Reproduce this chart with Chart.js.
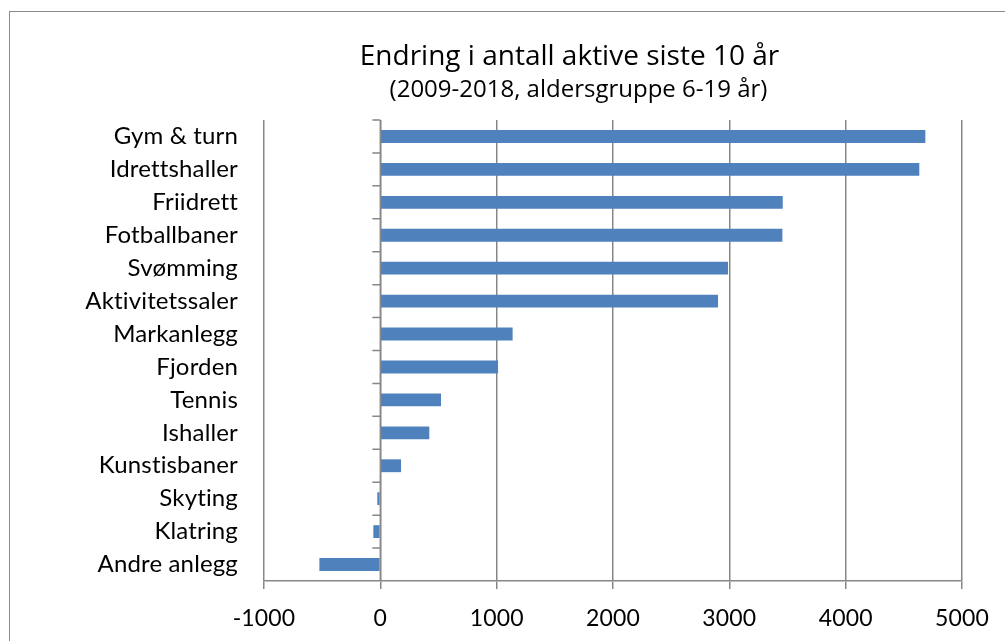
<!DOCTYPE html>
<html>
<head>
<meta charset="utf-8">
<script src="https://cdn.jsdelivr.net/npm/chart.js@4.4.1/dist/chart.umd.min.js"></script>
<style>
  html, body { margin: 0; padding: 0; background: #fff; overflow: hidden; }
  #wrap { position: relative; width: 1005px; height: 641px; }
  #frame { position: absolute; left: 9px; top: 11px; width: 1100px; height: 700px; border: 1.5px solid #8a8a8a; box-sizing: border-box; }
  canvas { position: absolute; left: 0; top: 0; }
</style>
</head>
<body>
<div id="wrap">
  <div id="frame"></div>
  <canvas id="c" width="1005" height="641"></canvas>
</div>
<script>
const categories = ['Gym & turn','Idrettshaller','Friidrett','Fotballbaner','Svømming','Aktivitetssaler','Markanlegg','Fjorden','Tennis','Ishaller','Kunstisbaner','Skyting','Klatring','Andre anlegg'];
const values = [4685, 4633, 3459, 3456, 2989, 2903, 1137, 1012, 522, 421, 178, -26, -60, -524];
const xTickValues = [-1000, 0, 1000, 2000, 3000, 4000, 5000];
const titleText = 'Endring i antall aktive siste 10 år';
const subtitleText = '(2009-2018, aldersgruppe 6-19 år)';

const FONT = 'Lato';
const TFONT = '"Open Sans"';
const GRID = '#878787';

const noLigPlugin = {
  id: 'noLig',
  beforeDraw(chart) {
    if ('letterSpacing' in chart.ctx) chart.ctx.letterSpacing = '0.15px';
  }
};

const titlePlugin = {
  id: 'titleDraw',
  afterDraw(chart) {
    const ctx = chart.ctx;
    ctx.save();
    ctx.fillStyle = '#000';
    ctx.textAlign = 'center';
    ctx.textBaseline = 'alphabetic';
    if ('letterSpacing' in ctx) ctx.letterSpacing = '0px';
    ctx.font = '28px ' + TFONT;
    ctx.fillText(titleText, 569.5, 65);
    ctx.font = '24px ' + TFONT;
    ctx.fillText(subtitleText, 578.5, 97);
    ctx.restore();
  }
};

const zeroAxisPlugin = {
  id: 'zeroAxis',
  afterDatasetsDraw(chart) {
    const ctx = chart.ctx;
    const x = chart.scales.x;
    const y = chart.scales.y;
    const area = chart.chartArea;
    const x0 = x.getPixelForValue(0);
    ctx.save();
    ctx.strokeStyle = GRID;
    ctx.lineWidth = 1.5;
    ctx.beginPath();
    ctx.moveTo(x0, area.top);
    ctx.lineTo(x0, area.bottom);
    const n = categories.length;
    const half = (y.getPixelForValue(1) - y.getPixelForValue(0)) / 2;
    for (let i = 0; i < n; i++) {
      const yb = y.getPixelForValue(i) - half;
      ctx.moveTo(x0 - 8, yb);
      ctx.lineTo(x0, yb);
    }
    ctx.stroke();
    ctx.restore();
  }
};

new Chart(document.getElementById('c'), {
  type: 'bar',
  data: {
    labels: categories,
    datasets: [{
      data: values,
      backgroundColor: '#4F81BD',
      borderWidth: 0,
      categoryPercentage: 1.0,
      barPercentage: 0.39
    }]
  },
  options: {
    indexAxis: 'y',
    responsive: false,
    animation: false,
    devicePixelRatio: 1,
    layout: { padding: { top: 120, right: 43, left: 0, bottom: 0 } },
    plugins: { legend: { display: false }, tooltip: { enabled: false }, title: { display: false } },
    scales: {
      x: {
        type: 'linear',
        min: -1000,
        max: 5000,
        afterBuildTicks(scale) { scale.ticks = xTickValues.map(v => ({ value: v })); },
        afterFit(scale) { scale.height = 60; },
        grid: { color: GRID, lineWidth: 1.5, tickLength: 8, tickColor: GRID },
        border: { display: true, color: GRID, width: 1.5 },
        ticks: {
          color: '#000', font: { family: FONT, size: 23 }, padding: 16, maxRotation: 0,
          callback: (v) => String(v)
        }
      },
      y: {
        type: 'category',
        afterFit(scale) { scale.width = 264; },
        grid: { display: false },
        border: { display: false },
        ticks: { color: '#000', font: { family: FONT, size: 24 }, padding: 18, autoSkip: false }
      }
    }
  },
  plugins: [noLigPlugin, titlePlugin, zeroAxisPlugin]
});
</script>
</body>
</html>
